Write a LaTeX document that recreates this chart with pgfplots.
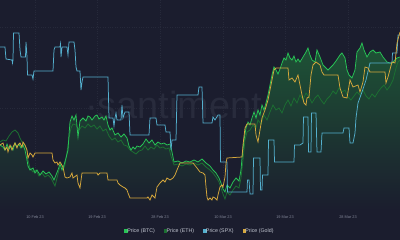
\documentclass[border=0pt]{standalone}
\usepackage{pgfplots}
\pgfplotsset{compat=1.18}
\usepackage{pgfplotstable}
\usepackage{fontspec}
\setmainfont{Liberation Sans}
\definecolor{bg}{RGB}{27,29,46}
\definecolor{btc}{RGB}{40,196,86}
\definecolor{eth}{RGB}{28,112,50}
\definecolor{spx}{RGB}{84,176,206}
\definecolor{gold}{RGB}{214,168,60}
\definecolor{filltop}{RGB}{30,84,54}
\definecolor{tickgray}{RGB}{130,134,152}
\definecolor{leggray}{RGB}{195,199,210}
\definecolor{wm}{RGB}{40,43,60}
\definecolor{gridc}{RGB}{38,41,58}

\pgfplotstableread{
x y
0 145
3 147
5 150
7 144
9 149
11 146
13 150
15 143
17 147
19 144
21 148
23 145
25 150
27 160
28 166
30 170
33 168
35 173
37 170
40 175
43 171
46 174
49 172
52 176
54 180
56 175
58 170
60 164
62 170
64 165
66 158
68 150
69 135
70 122
72 116
74 120
76 115
78 137
80 121
83 118
86 121
88 116
90 117
92 120
95 116
97 115
99 119
102 117
104 120
106 116
108 125
110 130
112 128
115 135
118 133
121 137
124 134
127 138
129 146
131 150
133 147
135 149
137 146
140 147
143 144
146 139
149 143
152 140
155 145
158 142
161 144
164 143
167 145
170 144
172 152
174 162
178 161
182 163
186 161
190 162
194 160
198 162
202 159
206 163
210 166
213 170
216 173
219 178
221 183
223 189
225 192
227 185
230 188
233 182
236 178
239 181
241 170
242 158
244 140
246 128
248 122
250 125
252 118
254 112
256 118
258 110
260 115
262 105
264 110
266 103
268 95
270 85
272 75
274 67
276 70
278 74
280 69
282 63
284 58
286 60
288 53
290 58
292 60
294 56
296 62
298 59
300 62
303 57
306 52
308 48
310 55
312 60
315 62
317 50
320 57
323 65
326 68
328 70
331 67
333 65
336 61
338 58
340 55
342 53
345 58
347 70
349 75
352 78
355 70
357 52
360 48
362 43
364 50
367 57
370 52
373 50
376 53
380 52
383 57
387 62
390 63
392 63
395 60
397 58
400 57
}\btc

\pgfplotstableread{
x y
0 142
3 140
6 141
9 136
12 132
15 130
18 133
20 138
22 142
25 146
27 151
28 160
30 168
33 172
36 170
39 176
42 173
45 177
48 175
51 178
53 182
55 186
57 178
59 170
61 163
63 170
65 165
67 152
69 138
71 128
73 124
76 125
79 130
82 126
85 128
88 124
91 127
94 125
97 129
100 126
103 131
106 129
109 136
112 140
115 138
118 142
121 140
124 145
127 146
130 150
133 152
136 154
139 151
142 150
145 146
148 150
151 147
154 149
157 145
160 148
163 147
166 149
169 148
171 156
174 165
178 164
182 166
186 164
190 165
194 163
198 165
202 163
206 167
210 170
213 173
216 177
219 182
221 188
223 194
225 199
227 192
230 195
233 190
236 186
239 188
241 178
243 160
245 140
247 132
250 130
253 125
256 128
258 120
261 124
264 115
267 120
270 112
273 105
276 110
279 108
282 113
285 105
288 100
291 106
294 98
297 103
300 95
303 100
306 93
309 97
312 103
315 98
318 95
321 100
324 104
327 99
330 96
333 91
336 94
339 88
342 92
345 90
348 97
351 100
354 96
357 92
360 95
363 90
366 96
369 99
372 94
375 97
378 92
381 88
384 85
387 90
390 86
393 80
396 68
398 62
400 60
}\eth

\pgfplotstableread{
x y
0 47
5 47
6 59
12 60
12.5 63
13 60
13.5 33
19 33
20 50
21 57
25.5 57
26 42
27 57
27.5 75
32 75
33 79
34 71
53 71
54 50
55 47
60 47
60.5 44
61 57
62 47
67 47
68 55
69 42
74 42
75 50
76 67
77 71
80 71
81 90
82 82
83 77
108 77
109 118
113 118
114 126
115 118
116 113
117 120
121 120
122 105
123 118
125 112
129 112
130 135
149 135
150 118
156 118
157 125
165 125
166 132
170 132
171 150
172 140
176 140
177 95
198 95
199 87
202 87
203 123
212 123
213 117
215 120
218 115
220 115
220.5 162
227 162
227.5 192
247 192
247.5 180
249 180
250 194
253 194
253.5 158
260 158
260.5 190
262 190
262.5 175
268 175
268.5 140
274 140
274.5 162
294 162
294.5 145
300 145
303 143
303.5 117
308 117
308.5 152
311 152
311.5 113
316 113
317 152
321 152
322 133
343 133
344 128
349 128
350 143
353 143
355 133
356 118
358 103
362 92
366 80
370 63
392 63
392.5 53
397 53
398 35
400 35
}\spx

\pgfplotstableread{
x y
0 145
3 143
5 150
7 147
8 152
10 145
12 150
13 147
15 143
17 148
18 145
20 143
22 147
23 142
25 145
27 150
28 158
30 153
32 155
33 157
35 153
52 153
53 160
55 163
57 162
58 165
60 162
63 167
65 177
67 178
70 177
72 173
73 178
77 175
78 183
80 188
82 173
97 173
98 175
100 173
107 173
108 180
117 180
118 183
120 185
123 187
125 188
127 190
128 193
130 198
147 198
148 197
150 200
152 195
155 198
157 187
160 183
163 180
165 182
167 178
170 180
173 178
175 175
177 170
180 163
193 163
197 168
200 172
203 173
205 175
206 187
207 197
208 200
210 198
212 200
213 197
215 198
217 200
218 195
220 187
222 185
223 187
225 177
226 163
227 158
242 157
243 145
245 128
247 124
255 124
256 135
258 142
260 130
262 118
265 110
268 100
270 90
272 80
274 70
276 68
288 68
289 80
292 78
295 82
298 75
300 85
302 95
304 103
306 105
307 98
309 97
311 75
313 65
316 62
320 65
322 72
324 75
338 75
340 88
343 97
347 98
350 80
353 87
358 85
360 92
363 82
365 67
368 68
370 72
385 72
386 83
388 77
392 62
395 63
397 43
400 32
}\gold

\begin{document}
\begin{tikzpicture}
\fill[bg] (0bp,-30bp) rectangle (400bp,210bp);
\useasboundingbox (0bp,-30bp) rectangle (400bp,210bp);
\begin{axis}[
  at={(0bp,0bp)}, anchor=south west,
  width=400bp, height=210bp, scale only axis,
  xmin=0, xmax=400, ymin=0, ymax=210, y dir=reverse,
  axis line style={draw=none},
  tick style={draw=none},
  xtick={35,97,160,223,285,348},
  xticklabels={10 Feb 23,19 Feb 23,28 Feb 23,10 Mar 23,19 Mar 23,28 Mar 23},
  xticklabel style={font=\fontsize{3.9}{4}\selectfont, text=tickgray, anchor=center, yshift=-7bp},
  ytick={27,108,189},
  yticklabels={},
  xmajorgrids, ymajorgrids,
  grid style={gridc, dotted, line width=0.4pt},
  legend columns=4,
  legend style={at={(0.5,-0.1)}, anchor=center, draw=none, fill=none,
    font=\fontsize{5.3}{6}\selectfont, text=leggray,
    /tikz/every even column/.append style={column sep=7bp},
    /tikz/every odd column/.append style={column sep=-2.5bp}},
  legend image code/.code={\fill[#1] (0bp,-1.65bp) rectangle (3.3bp,1.65bp);},
]
\node[font=\fontsize{38}{38}\selectfont, text=wm, anchor=base] at (axis cs:180,118) {·santiment·};
\addlegendimage{fill=btc, draw=none}
\addlegendentry{Price (BTC)}
\addlegendimage{fill=eth, draw=none}
\addlegendentry{Price (ETH)}
\addlegendimage{fill=spx, draw=none}
\addlegendentry{Price (SPX)}
\addlegendimage{fill=gold, draw=none}
\addlegendentry{Price (Gold)}
\addplot[top color=filltop, bottom color=bg, draw=none, forget plot] table {\btc} -- (axis cs:400,210) -- (axis cs:0,210) -- cycle;
\addplot[eth, line width=0.75pt, forget plot] table {\eth};
\addplot[btc, line width=0.75pt, forget plot] table {\btc};
\addplot[spx, line width=0.75pt, forget plot] table {\spx};
\addplot[gold, line width=0.75pt, forget plot] table {\gold};
\end{axis}
\end{tikzpicture}
\end{document}
